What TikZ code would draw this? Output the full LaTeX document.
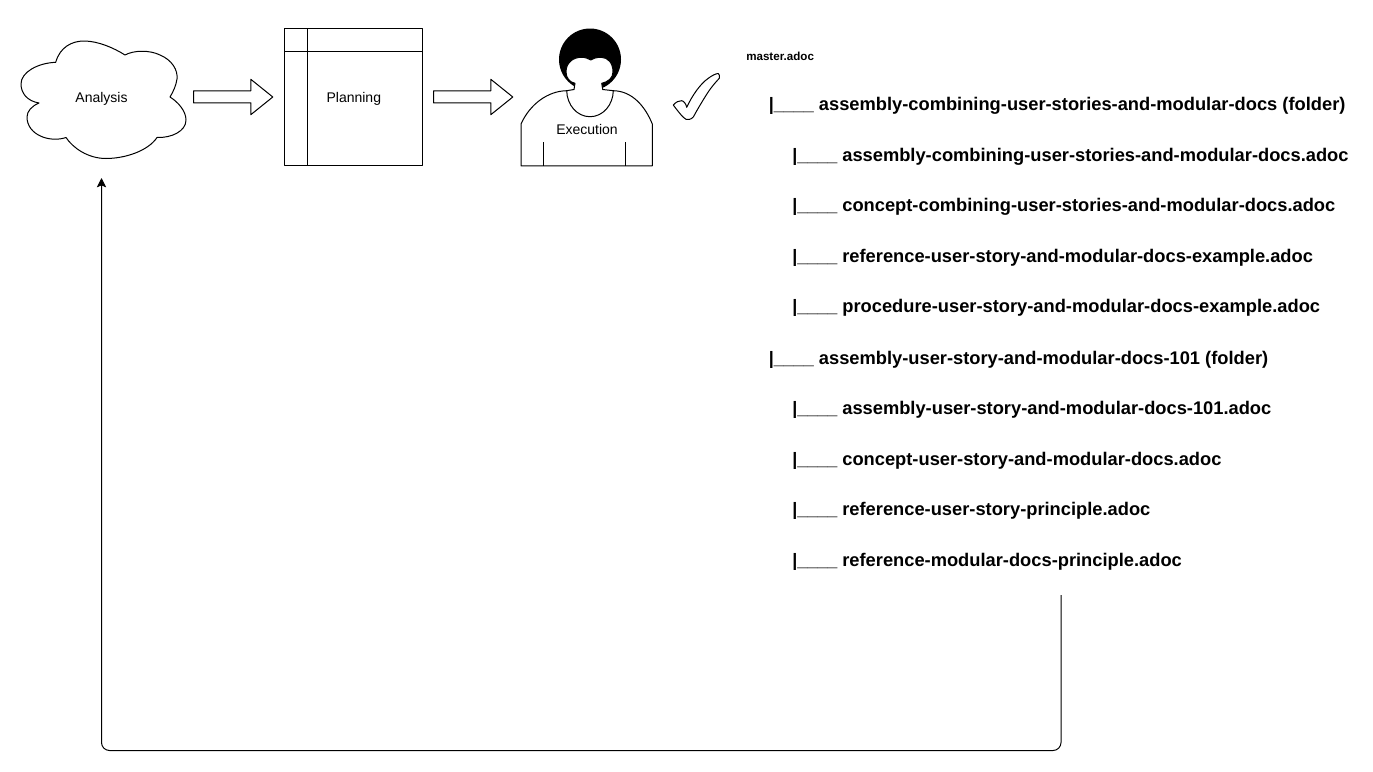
\documentclass[tikz,border=0pt]{standalone}
\usepackage{fontspec}
\setmainfont{Liberation Sans}
\usetikzlibrary{arrows.meta}
\newcommand{\treebar}{{\fontsize{13.5}{16}\selectfont|\_\_\_\_ }}
\tikzset{
  x=0.75pt,y=-0.75pt,
  shapeline/.style={draw=black,line width=0.75pt,line join=round,fill=white},
  lbl/.style={inner sep=0pt,font=\fontsize{10.5}{12}\selectfont},
  tree/.style={inner sep=0pt,anchor=base west,font=\fontsize{13.72}{16}\selectfont\bfseries},
  loopline/.style={draw=black,line width=0.75pt,rounded corners=6pt,-{Stealth[length=7pt,width=7pt,inset=1.5pt]}}
}
\begin{document}
\begin{tikzpicture}
\useasboundingbox (0,0) rectangle (1373,771);
% cloud
\draw[shapeline] (55.7,62.3) .. controls (60,47) and (72,41) .. (84,41)
  .. controls (98,41) and (114,48) .. (125,55)
  .. controls (134,50) and (150,50) .. (160,55)
  .. controls (172,60) and (178,70) .. (177,79)
  .. controls (176,86) and (173,92) .. (170,97)
  .. controls (178,102) and (186,111) .. (186,120)
  .. controls (186,131) and (172,138) .. (157,137.5)
  .. controls (148,151) and (125,158.5) .. (106,158.5)
  .. controls (88,158.5) and (73,148) .. (66,137.5)
  .. controls (50,143) and (27,135) .. (27,117)
  .. controls (27,111) and (32,106) .. (39,103)
  .. controls (27,101) and (21,93) .. (21,84)
  .. controls (21,72) and (38,63) .. (55.7,62.3) -- cycle;
\node[lbl] (analysis) at (101.5,98.8) {Analysis};
% arrow 1
\draw[shapeline] (193.5,90.8) -- (250.8,90.8) -- (250.8,79.3) -- (272.8,97) -- (250.8,114.7) -- (250.8,102.8) -- (193.5,102.8) -- cycle;
% planning
\draw[shapeline] (284.8,28) rectangle (422.8,165.8);
\draw[shapeline] (307.8,28) -- (307.8,165.8);
\draw[shapeline] (284.8,51) -- (422.8,51);
\node[lbl] (planning) at (353.8,98.8) {Planning};
% arrow 2
\draw[shapeline] (433.5,90.8) -- (490.8,90.8) -- (490.8,79.3) -- (512.8,97) -- (490.8,114.7) -- (490.8,102.8) -- (433.5,102.8) -- cycle;
% person
\fill[black] (590,59.5) circle [radius=31];
\draw[shapeline] (521,165.8) -- (521,124)
  .. controls (530,104) and (548,91) .. (566.7,90.7)
  -- (574,89.5) -- (575,83.3)
  .. controls (570,82.5) and (566,78) .. (566,72)
  .. controls (566,62) and (574,57.3) .. (581,57.3)
  .. controls (586,57.3) and (588,58.5) .. (590.7,60)
  .. controls (593,58.5) and (596,57.3) .. (601,57.3)
  .. controls (608,57.3) and (613,63) .. (613,72)
  .. controls (613,78) and (608,82) .. (601.7,83.3)
  -- (602.7,89.5) -- (613.3,90.7)
  .. controls (632,91) and (645,106) .. (652.3,124)
  -- (652.3,165.8) -- cycle;
\draw[shapeline,fill=none] (566.7,90.7) .. controls (567,105) and (577,116.7) .. (590,116.7)
  .. controls (603,116.7) and (613,105) .. (613.3,90.7);
\draw[shapeline,fill=none] (543.5,142.3) -- (543.5,165.8);
\draw[shapeline,fill=none] (625.5,142.3) -- (625.5,165.8);
\node[lbl] (execution) at (587,129.5) {Execution};
% check
\draw[shapeline] (673.3,105)
  .. controls (676,102) and (679,100.5) .. (681.7,100.7)
  .. controls (684,101) and (686,104) .. (686.7,107.3)
  .. controls (692,96) and (700,84) .. (708.3,78.3)
  .. controls (712,75.5) and (716,73.5) .. (718.3,73.5)
  .. controls (719.5,74) and (719.5,76) .. (719.3,78.3)
  .. controls (712,86) and (708,92) .. (705,97)
  .. controls (700,105) and (696,112) .. (693.3,117)
  .. controls (691,119.5) and (688,120) .. (686,119.3)
  .. controls (683,118) and (677,110) .. (673.3,105) -- cycle;
% tree
\node[inner sep=0pt,anchor=base west,font=\fontsize{8.7}{10}\selectfont\bfseries] (master) at (746,60) {master.adoc};
\node[tree] (t1) at (768.6,110) {\treebar assembly-combining-user-stories-and-modular-docs (folder)};
\node[tree] (t2) at (792,161) {\treebar assembly-combining-user-stories-and-modular-docs.adoc};
\node[tree] (t3) at (792,211) {\treebar concept-combining-user-stories-and-modular-docs.adoc};
\node[tree] (t4) at (792,262) {\treebar reference-user-story-and-modular-docs-example.adoc};
\node[tree] (t5) at (792,312) {\treebar procedure-user-story-and-modular-docs-example.adoc};
\node[tree] (t6) at (768.6,364) {\treebar assembly-user-story-and-modular-docs-101 (folder)};
\node[tree] (t7) at (792,414) {\treebar assembly-user-story-and-modular-docs-101.adoc};
\node[tree] (t8) at (792,465) {\treebar concept-user-story-and-modular-docs.adoc};
\node[tree] (t9) at (792,515) {\treebar reference-user-story-principle.adoc};
\node[tree] (t10) at (792,566) {\treebar reference-modular-docs-principle.adoc};
% loop
\coordinate (loopstart) at (1061,595);
\coordinate (loopend) at (101.5,178);
\draw[loopline] (loopstart) -- (1061,750.5) -- (101.5,750.5) -- (loopend);
\end{tikzpicture}
\end{document}
